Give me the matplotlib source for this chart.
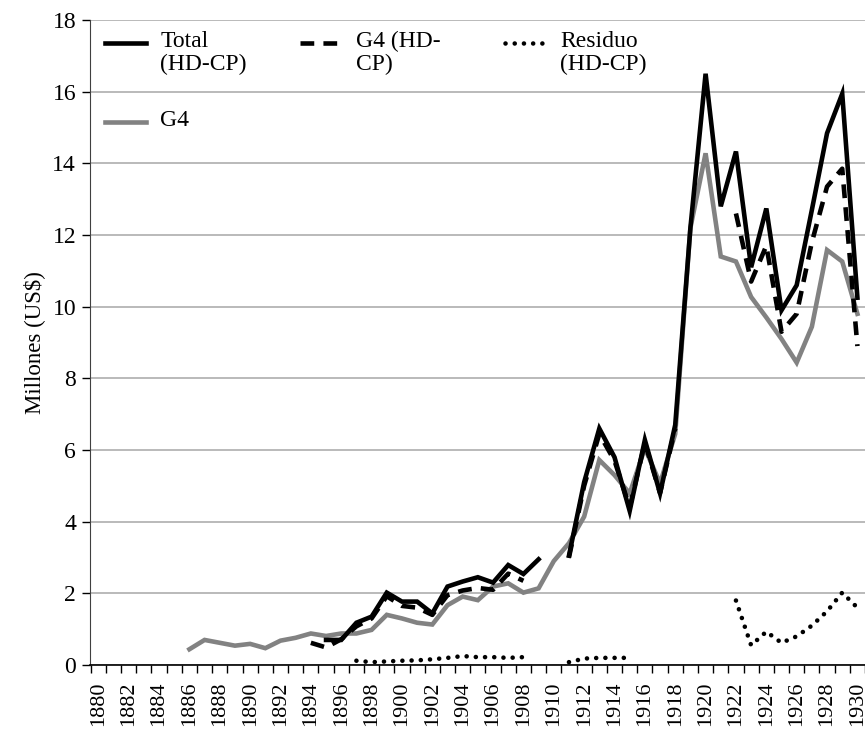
import numpy as np
import matplotlib
matplotlib.use("Agg")
import matplotlib.pyplot as plt
from matplotlib.lines import Line2D

nan = np.nan

# G4 (gray), 1886-1930
g4_years = np.arange(1886, 1931)
g4 = [0.44, 0.70, 0.62, 0.54, 0.59, 0.47, 0.68, 0.76, 0.88, 0.81,
      0.88, 0.88, 0.98, 1.40, 1.30, 1.18, 1.13, 1.67, 1.91, 1.81,
      2.19, 2.28, 2.02, 2.14, 2.90, 3.40, 4.14, 5.72, 5.30, 4.79,
      6.05, 5.07, 6.45, 12.2, 14.28, 11.4, 11.26, 10.27, 9.7, 9.1,
      8.44, 9.44, 11.58, 11.26, 9.8]

# Total (HD-CP), 1895-1930
total_years = np.arange(1895, 1931)
total = [0.70, 0.70, 1.18, 1.35, 2.02, 1.77, 1.77, 1.44, 2.19, 2.33,
         2.45, 2.30, 2.79, 2.54, 2.95, nan, 3.05, 5.1, 6.6, 5.8,
         4.3, 6.28, 4.79, 6.7, 12.2, 16.5, 12.8, 14.33, 11.1, 12.74,
         9.9, 10.6, 12.7, 14.84, 15.94, 10.25]

# G4 (HD-CP), 1894-1930
g4hd_years = np.arange(1894, 1931)
g4hd = [0.62, 0.49, 0.72, 1.08, 1.30, 1.92, 1.65, 1.60, 1.40, 1.95,
        2.08, 2.15, 2.10, 2.55, 2.35, nan, nan, 3.0, 5.0, 6.45,
        5.7, 4.4, 6.2, 4.8, 6.6, nan, nan, nan, 12.6, 10.7,
        11.7, 9.3, 9.8, 11.8, 13.35, 13.85, 8.9]

# Residuo (HD-CP), 1897-1930
res_years = np.arange(1897, 1931)
residuo = [0.12, 0.08, 0.10, 0.12, 0.13, 0.16, 0.20, 0.25, 0.22, 0.22,
           0.20, 0.22, nan, nan, 0.08, 0.18, 0.20, 0.20, 0.20, nan,
           nan, nan, nan, nan, nan, 1.8, 0.55, 0.93, 0.62, 0.80,
           1.1, 1.5, 2.02, 1.6]

plt.rcParams['font.family'] = ['Liberation Serif', 'DejaVu Serif']

fig = plt.figure(figsize=(8.65, 7.32), dpi=100)
ax = fig.add_axes([0.104, 0.0915, 0.896, 0.8812])

lw = 3.3
dash_style = (0, (3.0, 2.0))
dot_style = (0, (0.01, 2.0))

ax.plot(g4_years, g4, color='#828282', lw=lw, solid_joinstyle='miter', zorder=3)
ax.plot(total_years, total, color='black', lw=lw, solid_joinstyle='miter', zorder=4)
ax.plot(g4hd_years, g4hd, color='black', lw=lw, linestyle=dash_style, zorder=5)
ax.plot(res_years, residuo, color='black', lw=lw, linestyle=dot_style,
        dash_capstyle='round', zorder=5)

ax.set_xlim(1879.45, 1930.2)
ax.set_ylim(0, 18)
ax.set_yticks(np.arange(0, 19, 2))
ax.yaxis.grid(True, color='#b4b4b4', lw=1.3)
ax.set_axisbelow(True)

ax.set_xticks(np.arange(1880, 1931, 2))
ax.set_xticks(np.arange(1879.5, 1931, 1), minor=True)
ax.tick_params(axis='x', which='major', length=0, labelsize=16, rotation=90, pad=12)
ax.tick_params(axis='x', which='minor', length=6, width=1, direction='out')
ax.tick_params(axis='y', length=6, width=1, labelsize=17, pad=4)

for s in ['top', 'right']:
    ax.spines[s].set_visible(False)
ax.spines['left'].set_color('#404040')
ax.spines['bottom'].set_color('black')
ax.spines['bottom'].set_linewidth(1.2)

ax.set_ylabel('Millones (US$)', fontsize=16.5, labelpad=5)

# legend drawn in axes coordinates (Excel-like layout)
legend_items = [
    ('Total\n(HD-CP)', 0.019, 0.964, dict(color='black', lw=lw)),
    ('G4 (HD-\nCP)', 0.271, 0.964, dict(color='black', lw=lw, linestyle=dash_style)),
    ('Residuo\n(HD-CP)', 0.535, 0.964, dict(color='black', lw=lw, linestyle=dot_style,
                                         dash_capstyle='round')),
    ('G4', 0.019, 0.842, dict(color='#828282', lw=lw)),
]
for label, x0, y0, style in legend_items:
    ax.add_line(Line2D([x0, x0 + 0.053], [y0, y0], transform=ax.transAxes,
                       clip_on=False, zorder=6, **style))
    ax.text(x0 + 0.072, y0 + 0.019, label, transform=ax.transAxes, fontsize=17,
            va='top', ha='left', linespacing=1.1, zorder=6)

fig.savefig('out.png', dpi=100)
